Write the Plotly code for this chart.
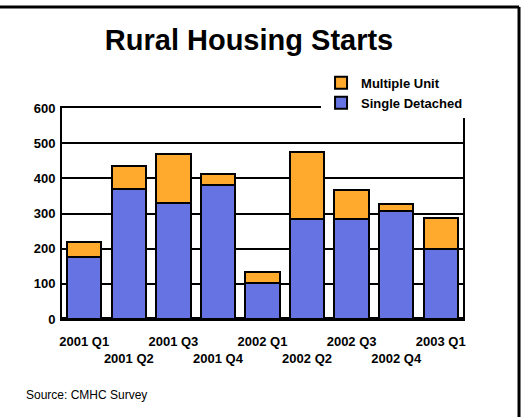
import plotly.graph_objects as go

quarters = ["2001 Q1", "2001 Q2", "2001 Q3", "2001 Q4", "2002 Q1",
            "2002 Q2", "2002 Q3", "2002 Q4", "2003 Q1"]
single_detached = [175, 370, 330, 380, 103, 285, 285, 307, 200]
multiple_unit = [45, 65, 140, 33, 32, 190, 82, 20, 87]
y_ticks = [0, 100, 200, 300, 400, 500, 600]

# staggered tick labels: odd positions drop to a second row
tick_text = [q if i % 2 == 0 else "<br>" + q for i, q in enumerate(quarters)]

FONT = "Liberation Sans, Arial, sans-serif"
BLUE = "#6673E2"
ORANGE = "#FFAA2C"

fig = go.Figure()
fig.add_trace(go.Bar(
    x=quarters, y=single_detached, name="<b>Single Detached</b>",
    marker=dict(color=BLUE, line=dict(color="black", width=2)),
))
fig.add_trace(go.Bar(
    x=quarters, y=multiple_unit, name="<b>Multiple Unit</b>",
    marker=dict(color=ORANGE, line=dict(color="black", width=2)),
))

fig.update_layout(
    width=521, height=417,
    margin=dict(l=62, r=58, t=108, b=98),
    paper_bgcolor="white", plot_bgcolor="white",
    barmode="stack", bargap=0.23,
    font=dict(family=FONT, size=13, color="black"),
    title=dict(text="<b>Rural Housing Starts</b>", x=0.478, xref="container",
               xanchor="center", y=0.904, yref="container", yanchor="middle",
               font=dict(size=29, family=FONT, color="black")),
    legend=dict(x=0.646, y=1.19, xanchor="left", yanchor="top",
                bgcolor="white", traceorder="reversed",
                font=dict(size=13, family=FONT, color="black"),
                itemwidth=30),
    showlegend=True,
)

fig.update_xaxes(
    type="category", tickmode="array", tickvals=quarters, ticktext=tick_text,
    tickangle=0, ticklabelstandoff=9,
    tickfont=dict(size=13, family=FONT, color="black", weight="bold"),
    showline=True, linecolor="black", linewidth=2, mirror=True,
    ticks="", showgrid=False, range=[-0.5, 8.5],
)
fig.update_yaxes(
    range=[0, 600], tickvals=y_ticks,
    tickfont=dict(size=13, family=FONT, color="black", weight="bold"),
    showgrid=True, gridcolor="black", gridwidth=2,
    zeroline=True, zerolinecolor="black", zerolinewidth=4,
    showline=True, linecolor="black", linewidth=2, mirror=True,
    ticks="", ticklabelstandoff=2,
)

# outer frame (top and right edge)
fig.add_shape(type="line", xref="paper", yref="paper",
              x0=-0.16, x1=1.14, y0=1.4787, y1=1.4787,
              line=dict(color="black", width=3))
fig.add_shape(type="line", xref="paper", yref="paper",
              x0=1.1397, x1=1.1397, y0=1.4787, y1=-0.5,
              line=dict(color="black", width=3))

fig.add_annotation(text="Source: CMHC Survey", xref="paper", yref="paper",
                   x=(24 - 62) / 401, y=(319 - 395) / 211, xanchor="left",
                   yanchor="middle", showarrow=False,
                   font=dict(size=12, family=FONT, color="black"))

fig.write_html("out.html")
